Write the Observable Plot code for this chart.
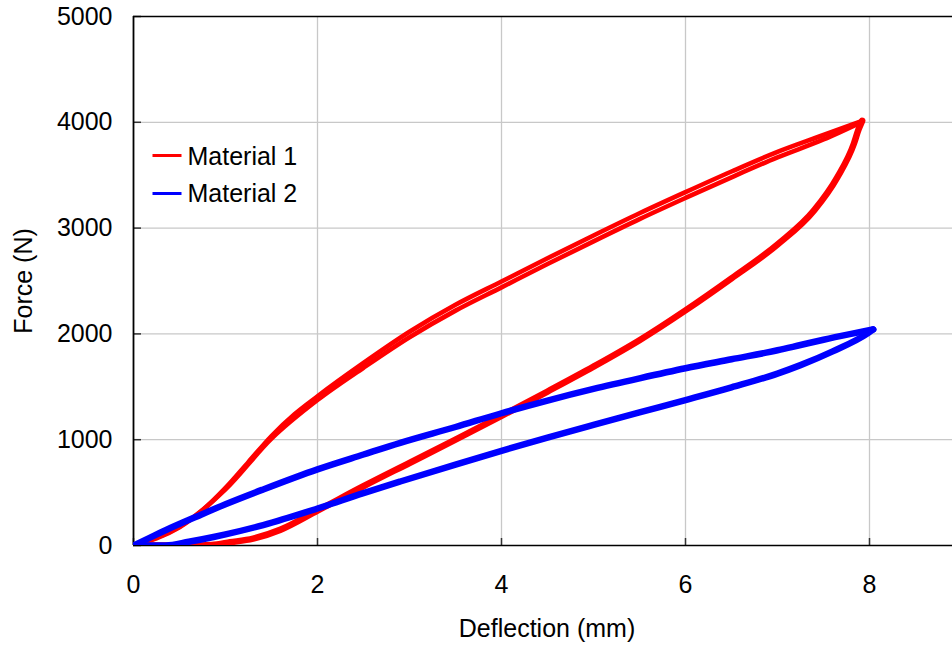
<!DOCTYPE html>
<html>
<head>
<meta charset="utf-8">
<script src="https://cdn.jsdelivr.net/npm/d3@7"></script>
<script src="https://cdn.jsdelivr.net/npm/@observablehq/plot@0.6"></script>
<style>
  html, body { margin: 0; padding: 0; background: #fff; }
  #chart { width: 952px; height: 645px; }
</style>
</head>
<body>
<div id="chart"></div>
<script>
// ---- Data ----
const seriesNames = ["Material 1", "Material 2"];
const seriesColors = ["#ff0000", "#0000ff"];

const xTicks = [0, 2, 4, 6, 8];
const yTicks = [0, 1000, 2000, 3000, 4000, 5000];

// Material 1 – loading, cycle 1
const m1Load1X = [0, 0.25, 0.5, 0.75, 1.0, 1.25, 1.5, 1.75, 2.0, 2.5, 3.0, 3.5, 4.0, 4.5, 5.0, 5.5, 6.0, 6.5, 7.0, 7.5, 7.92];
const m1Load1F = [0, 75, 178, 335, 545, 790, 1035, 1240, 1410, 1725, 2020, 2275, 2495, 2715, 2930, 3140, 3340, 3535, 3720, 3880, 4014];
// Material 1 – loading, cycle 2
const m1Load2X = [0, 0.5, 1.0, 1.5, 2.0, 2.5, 3.0, 3.5, 4.0, 4.5, 5.0, 5.5, 6.0, 6.5, 7.0, 7.5, 7.92];
const m1Load2F = [0, 172, 530, 1010, 1375, 1680, 1968, 2220, 2440, 2660, 2875, 3085, 3285, 3480, 3668, 3838, 4005];
// Material 1 – unloading
const m1UnloadX = [7.92, 7.88, 7.83, 7.65, 7.4, 7.0, 6.5, 6.0, 5.5, 5.0, 4.5, 4.0, 3.5, 3.0, 2.5, 2.0, 1.6, 1.3, 1.05, 0.85, 0.6, 0];
const m1UnloadF = [4014, 3930, 3797, 3480, 3170, 2845, 2525, 2222, 1940, 1690, 1455, 1225, 1000, 780, 560, 330, 150, 65, 30, 5, 0, 0];

// Material 2 – loading
const m2LoadX = [0, 0.18, 0.4, 0.69, 1.0, 1.41, 2.0, 2.5, 2.9, 3.5, 4.0, 4.5, 5.0, 5.5, 6.0, 6.5, 7.0, 7.25, 7.5, 7.8, 8.04];
const m2LoadF = [0, 75, 165, 275, 390, 530, 720, 860, 970, 1120, 1250, 1370, 1480, 1580, 1675, 1760, 1845, 1895, 1945, 2000, 2042];
// Material 2 – unloading
const m2UnloadX = [8.04, 7.98, 7.6, 7.25, 7.0, 6.5, 6.0, 5.5, 5.0, 4.5, 4.0, 3.5, 2.9, 2.5, 2.0, 1.41, 1.0, 0.87, 0.6, 0.35, 0];
const m2UnloadF = [2042, 2005, 1835, 1705, 1625, 1495, 1375, 1258, 1140, 1020, 895, 765, 605, 495, 350, 193, 105, 80, 35, 0, 0];

// ---- Build tables ----
function rows(xs, fs, series, branch) {
  return xs.map((x, i) => ({x, f: fs[i], series, branch}));
}
const m1Data = [
  ...rows(m1Load1X, m1Load1F, "Material 1", "load1"),
  ...rows(m1Load2X, m1Load2F, "Material 1", "load2"),
  ...rows(m1UnloadX, m1UnloadF, "Material 1", "unload")
];
const m2Data = [
  ...rows(m2LoadX, m2LoadF, "Material 2", "load"),
  ...rows(m2UnloadX, m2UnloadF, "Material 2", "unload")
];

const W = 952, H = 645;
const mL = 133, mR = 0, mT = 16, mB = 100;
const plotW = W - mL - mR, plotH = H - mT - mB;
const pxPerUnit = 92;
const xMax = plotW / pxPerUnit;
const FS = 25;
const font = "'Liberation Sans', Arial, Helvetica, sans-serif";

const lineSymbol = {
  draw(context) { context.moveTo(-14.5, 0); context.lineTo(14.5, 0); }
};

const lineOpts = {x: "x", y: "f", curve: "monotone-x", strokeLinejoin: "round", strokeLinecap: "round", clip: true};

const chart = Plot.plot({
  width: W,
  height: H,
  marginLeft: mL,
  marginRight: mR,
  marginTop: mT,
  marginBottom: mB,
  style: {fontFamily: font, fontSize: FS + "px", color: "#000", background: "#fff"},
  x: {domain: [0, xMax]},
  y: {domain: [0, 5000]},
  marks: [
    // grid
    Plot.ruleX(xTicks.filter(d => d > 0), {x: d => d, stroke: "#c8c8c8", strokeWidth: 1.3}),
    Plot.ruleY(yTicks.filter(d => d > 0 && d < 5000), {y: d => d, stroke: "#c8c8c8", strokeWidth: 1.3}),
    // inward ticks
    Plot.tickX(xTicks, {x: d => d, stroke: "#333", strokeWidth: 1.5, insetTop: plotH - 7}),
    Plot.tickY(yTicks, {y: d => d, stroke: "#333", strokeWidth: 1.5, insetRight: plotW - 8}),
    // frame lines
    Plot.ruleY([5000], {stroke: "#000", strokeWidth: 1.6}),
    Plot.ruleX([0], {stroke: "#000", strokeWidth: 1.8}),
    Plot.ruleY([0], {stroke: "#000", strokeWidth: 1.6}),
    // axes labels
    Plot.axisX(xTicks, {tickSize: 0, tickPadding: 30, fontSize: FS, tickFormat: d => String(d), label: null}),
    Plot.axisY(yTicks, {tickSize: 0, tickPadding: 21, fontSize: FS, tickFormat: d => String(d), label: null}),
    Plot.text(["Deflection (mm)"], {frameAnchor: "bottom", dx: 4, dy: 83, textAnchor: "middle", lineAnchor: "middle", fontSize: FS}),
    Plot.text(["Force (N)"], {frameAnchor: "left", dx: -110, rotate: -90, textAnchor: "middle", lineAnchor: "middle", fontSize: FS}),
    // curves
    Plot.line(m1Data.filter(d => d.branch === "unload"), {...lineOpts, stroke: seriesColors[0], strokeWidth: 6.5}),
    Plot.line(m1Data.filter(d => d.branch === "load1"), {...lineOpts, stroke: seriesColors[0], strokeWidth: 4.6}),
    Plot.line(m1Data.filter(d => d.branch === "load2"), {...lineOpts, stroke: seriesColors[0], strokeWidth: 4.6}),
    Plot.line(m2Data, {...lineOpts, z: "branch", stroke: seriesColors[1], strokeWidth: 6.5}),
    // legend
    Plot.dot([seriesNames[0]], {frameAnchor: "top-left", dx: 33.5, dy: 139, symbol: lineSymbol, fill: "none", stroke: seriesColors[0], strokeWidth: 3}),
    Plot.dot([seriesNames[1]], {frameAnchor: "top-left", dx: 33.5, dy: 177, symbol: lineSymbol, fill: "none", stroke: seriesColors[1], strokeWidth: 3}),
    Plot.text([seriesNames[0]], {frameAnchor: "top-left", dx: 54, dy: 140, textAnchor: "start", lineAnchor: "middle", fontSize: FS}),
    Plot.text([seriesNames[1]], {frameAnchor: "top-left", dx: 54, dy: 177, textAnchor: "start", lineAnchor: "middle", fontSize: FS})
  ]
});
document.getElementById("chart").appendChild(chart);
</script>
</body>
</html>
